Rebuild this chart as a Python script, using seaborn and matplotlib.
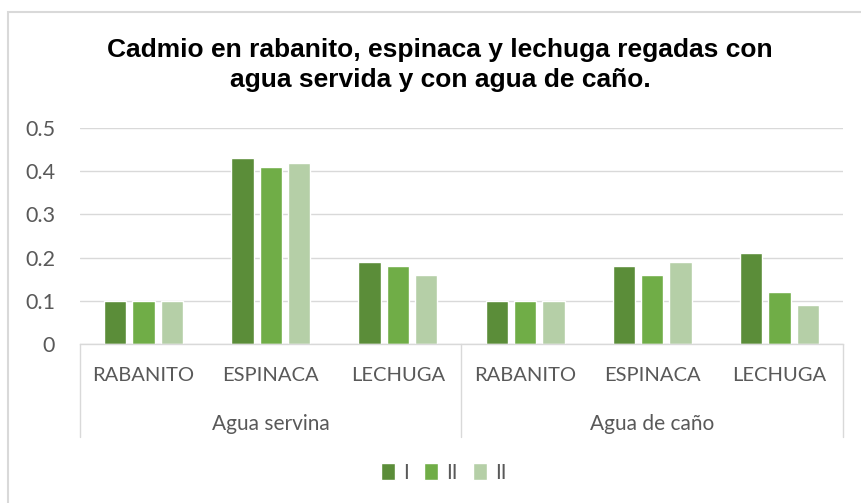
import matplotlib
matplotlib.use("Agg")
import matplotlib.pyplot as plt
import seaborn as sns
import pandas as pd
from matplotlib.patches import Rectangle
from matplotlib.transforms import blended_transform_factory

groups = ["Agua servina", "Agua de caño"]
categories = ["RABANITO", "ESPINACA", "LECHUGA"]
series_names = ["I", "II", "II "]
serie_1 = [0.10, 0.43, 0.19, 0.10, 0.18, 0.21]
serie_2 = [0.10, 0.41, 0.18, 0.10, 0.16, 0.12]
serie_3 = [0.10, 0.42, 0.16, 0.10, 0.19, 0.09]
yticks = [0, 0.1, 0.2, 0.3, 0.4, 0.5]
ytick_labels = ["0", "0.1", "0.2", "0.3", "0.4", "0.5"]
colors = ["#5B8D39", "#70AD47", "#B5CFA7"]

rows = []
for s, vals in zip(series_names, [serie_1, serie_2, serie_3]):
    for i, v in enumerate(vals):
        rows.append({"pos": i, "serie": s, "val": v})
df = pd.DataFrame(rows)

sns.set_theme(style="white")
plt.rcParams["font.family"] = ["Lato", "DejaVu Sans"]

fig = plt.figure(figsize=(8.61, 5.03), dpi=100)
ax = fig.add_axes([80/861, 1-344/503, (843-80)/861, (344-128)/503])

sns.barplot(data=df, x="pos", y="val", hue="serie", order=list(range(6)),
            hue_order=series_names, palette=colors, width=0.667, gap=0.21,
            ax=ax, legend=True, saturation=1)

ax.set_ylim(0, 0.5)
ax.set_xlim(-0.5, 5.5)
ax.set_yticks(yticks)
ax.set_yticklabels(ytick_labels, color="#595959", fontsize=15.5)
ax.tick_params(axis="y", length=0, pad=18)
ax.set_xticks([])
ax.set_xlabel("")
ax.set_ylabel("")
for sp in ["top", "right", "left"]:
    ax.spines[sp].set_visible(False)
ax.spines["bottom"].set_color("#D9D9D9")
ax.spines["bottom"].set_linewidth(1)
ax.yaxis.grid(True, color="#D9D9D9", linewidth=1)
ax.set_axisbelow(True)

trans = blended_transform_factory(ax.transData, ax.transAxes)
for i in range(6):
    ax.text(i, -0.148, categories[i % 3], transform=trans, ha="center", va="center",
            fontsize=14.5, color="#595959")
for g, name in enumerate(groups):
    ax.text(g*3 + 1, -0.37, name, transform=trans, ha="center", va="center",
            fontsize=15, color="#595959")
for x in [-0.5, 2.5, 5.5]:
    ax.plot([x, x], [0, -0.43], transform=trans, color="#D9D9D9", lw=1, clip_on=False)

handles, labels = ax.get_legend_handles_labels()
ax.get_legend().remove()
fig.legend(handles, ["I", "II", "II"], loc="center", bbox_to_anchor=(444/861, 1-473/503),
           ncol=3, frameon=False, handlelength=0.65, handleheight=0.9, handletextpad=0.4,
           columnspacing=0.75, prop={"size": 15}, labelcolor="#595959")

for txt, yy in [("Cadmio en rabanito, espinaca y lechuga regadas con", 50),
                ("agua servida y con agua de caño.", 80)]:
    fig.text(440/861, 1-yy/503, txt, ha="center", va="center", fontsize=19,
             fontweight="bold", family=["Liberation Sans", "DejaVu Sans"], color="black")

fig.patches.append(Rectangle((8/861, -0.05), 1.0, 1.05 - 12/503, transform=fig.transFigure,
                             fill=False, edgecolor="#D9D9D9", linewidth=1.5))

fig.savefig("out.png", dpi=100)
